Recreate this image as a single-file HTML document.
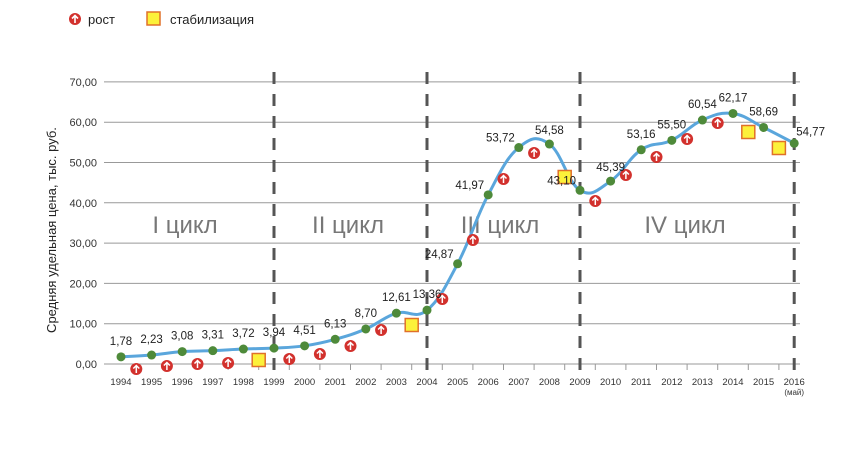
<!DOCTYPE html>
<html><head><meta charset="utf-8"><style>
body{margin:0;background:#fff;width:850px;height:454px;overflow:hidden}
svg{display:block;font-family:"Liberation Sans","DejaVu Sans",sans-serif}
</style></head><body>
<svg id="s" width="850" height="454" viewBox="0 0 850 454">
<g font-size="13" fill="#222">
<circle cx="75" cy="19" r="6" fill="#d2312d"/><path d="M75 23v-7M72 18.5l3-3 3 3" stroke="#fff" stroke-width="1.6" fill="none"/>
<text x="88" y="24">рост</text>
<rect x="147" y="12" width="13" height="13" fill="#fcf13a" stroke="#e0702a" stroke-width="1.5"/>
<text x="170" y="24">стабилизация</text>
</g>
<text transform="translate(56,230) rotate(-90)" text-anchor="middle" font-size="13" fill="#222">Средняя удельная цена, тыс. руб.</text>
<g id="g"></g>
</svg>
<script>
const g=document.getElementById('g');let h='';
const y0=364,py=4.03,x0=121,px=30.6;
const Y=v=>y0-v*py,X=i=>x0+i*px;
for(let k=0;k<=7;k++){const y=Y(k*10);h+=`<line x1="104" x2="800" y1="${y}" y2="${y}" stroke="#999" stroke-width="1"/><text x="97" y="${y+4}" text-anchor="end" font-size="11" fill="#333">${k*10},00</text>`;}
for(let i=0;i<22;i++){h+=`<line x1="${X(i+0.5)}" x2="${X(i+0.5)}" y1="364" y2="370" stroke="#999"/>`;}
for(let i=0;i<=22;i++){h+=`<text x="${X(i)}" y="385" text-anchor="middle" font-size="9.5" fill="#333">${1994+i}</text>`;}
h+=`<text x="${X(22)}" y="395" text-anchor="middle" font-size="8" fill="#333">(май)</text>`;
[5,10,15,22].forEach(i=>{h+=`<line x1="${X(i)}" x2="${X(i)}" y1="72" y2="372" stroke="#555" stroke-width="3" stroke-dasharray="12,10"/>`;});
[["I цикл",185],["II цикл",348],["III цикл",500],["IV цикл",685]].forEach(a=>{h+=`<text x="${a[1]}" y="233" text-anchor="middle" font-size="24" fill="#777">${a[0]}</text>`;});
const d=[1.78,2.23,3.08,3.31,3.72,3.94,4.51,6.13,8.70,12.61,13.36,24.87,41.97,53.72,54.58,43.10,45.39,53.16,55.50,60.54,62.17,58.69,54.77];
const P=d.map((v,i)=>[X(i),Y(v)]);
let p=`M${P[0][0]},${P[0][1]}`;
for(let i=0;i<P.length-1;i++){const a=P[Math.max(i-1,0)],b=P[i],c=P[i+1],e=P[Math.min(i+2,P.length-1)];const t=0.2;
p+=` C${b[0]+(c[0]-a[0])*t},${b[1]+(c[1]-a[1])*t} ${c[0]-(e[0]-b[0])*t},${c[1]-(e[1]-b[1])*t} ${c[0]},${c[1]}`;}
h+=`<path d="${p}" fill="none" stroke="#5aa6dc" stroke-width="3"/>`;
const m=[[369,0],[366,0],[364,0],[363,0],[360,1],[359,0],[354,0],[346,0],[330,0],[325,1],[299,0],[240,0],[179,0],[153,0],[177,1],[201,0],[175,0],[157,0],[139,0],[123,0],[132,1],[148,1]];
m.forEach((q,i)=>{const x=X(i+0.5),y=q[0];
if(q[1])h+=`<rect x="${x-6.5}" y="${y-6.5}" width="13" height="13" fill="#fcf13a" stroke="#e0702a" stroke-width="1.5"/>`;
else h+=`<circle cx="${x}" cy="${y}" r="6" fill="#d2312d"/><path d="M${x} ${y+4}v-7M${x-3} ${y-0.5}l3-3 3 3" stroke="#fff" stroke-width="1.5" fill="none"/>`;});
P.forEach((q,i)=>{h+=`<circle cx="${q[0]}" cy="${q[1]}" r="4.5" fill="#4e8a3a"/>`;
const s=d[i].toFixed(2).replace('.',',');let lx=q[0],ly=q[1]-12,an='middle';
if(i==11||i==12||i==13||i==15){lx=q[0]-4;an='end';ly=q[1]-6;}
if(i==14||i==16){ly=q[1]-10;}
if(i==22){lx=q[0]+2;an='start';ly=q[1]-8;}
h+=`<text x="${lx}" y="${ly}" text-anchor="${an}" font-size="11.5" fill="#222">${s}</text>`;});
g.innerHTML=h;
</script>
</body></html>
